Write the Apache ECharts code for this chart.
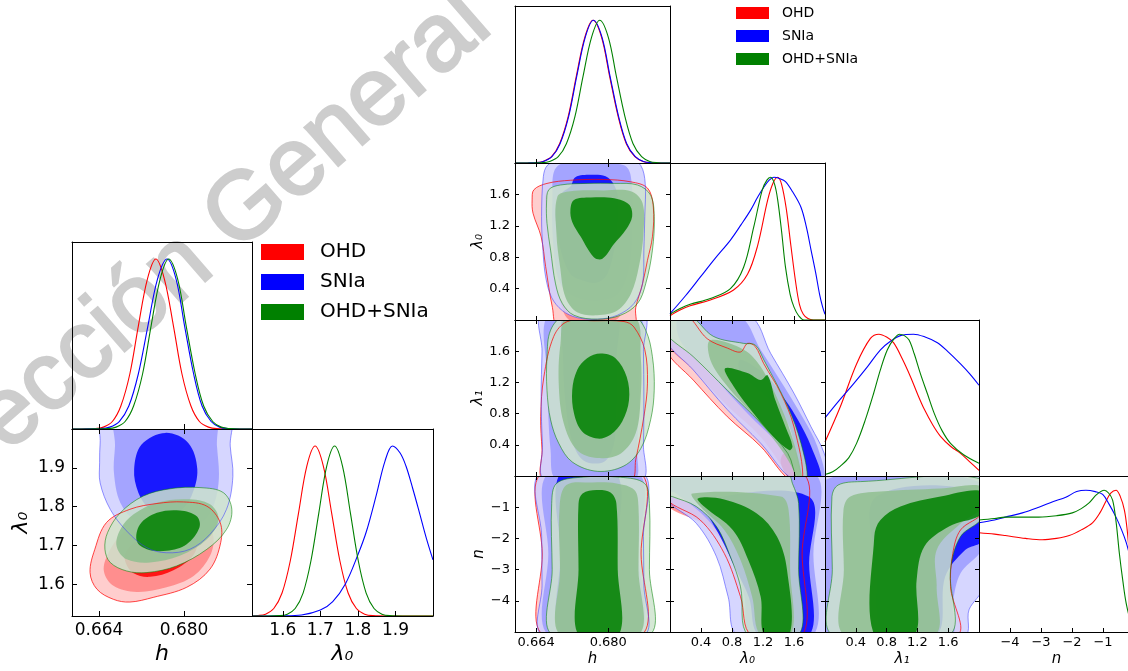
<!DOCTYPE html>
<html>
<head>
<meta charset="utf-8">
<script src="https://cdn.jsdelivr.net/npm/echarts@6/dist/echarts.min.js"></script>
<style>
  html, body { margin: 0; padding: 0; background: #ffffff; }
  #chart { width: 1128px; height: 671px; }
</style>
</head>
<body>
<div id="chart"></div>
<script>
// ---------- tick values ----------
const H_TICKS = [0.664, 0.680];
const LAM0_TICKS_L = [1.6, 1.7, 1.8, 1.9];
const LAM_TICKS_R = [0.4, 0.8, 1.2, 1.6];
const N_TICKS = [-4, -3, -2, -1];

// ---------- left triangle: 1D marginals (parameter, relative density) ----------
const L_h_OHD = [[0.6589,0],[0.6615,0.0005],[0.6632,0.002],[0.6648,0.011],[0.6665,0.044],[0.6681,0.135],[0.6698,0.325],[0.6714,0.607],[0.6731,0.882],[0.6747,1],[0.6763,0.882],[0.6780,0.607],[0.6796,0.325],[0.6813,0.135],[0.6829,0.044],[0.6846,0.011],[0.6862,0.002],[0.6890,0],[0.6928,0]];
const L_h_SNIa = [[0.6589,0],[0.6620,0.0005],[0.6642,0.002],[0.6660,0.011],[0.6678,0.044],[0.6696,0.135],[0.6714,0.325],[0.6732,0.607],[0.6750,0.882],[0.6768,1],[0.6785,0.882],[0.6801,0.607],[0.6818,0.325],[0.6834,0.135],[0.6851,0.044],[0.6867,0.011],[0.6884,0.002],[0.6905,0],[0.6928,0]];
const L_h_Both = [[0.6589,0],[0.6635,0.0005],[0.6656,0.002],[0.6672,0.011],[0.6689,0.044],[0.6705,0.135],[0.6722,0.325],[0.6738,0.607],[0.6755,0.882],[0.6771,1],[0.6788,0.882],[0.6804,0.607],[0.6821,0.325],[0.6837,0.135],[0.6854,0.044],[0.6870,0.011],[0.6887,0.002],[0.6905,0],[0.6928,0]];

const L_l0_OHD = [[1.518,0],[1.532,0.002],[1.554,0.011],[1.576,0.044],[1.598,0.135],[1.620,0.325],[1.642,0.607],[1.664,0.882],[1.686,1],[1.708,0.882],[1.730,0.607],[1.752,0.325],[1.774,0.135],[1.796,0.044],[1.818,0.011],[1.840,0.002],[1.880,0],[2.0,0]];
const L_l0_SNIa = [[1.518,0],[1.60,0.001],[1.65,0.006],[1.70,0.035],[1.733,0.085],[1.767,0.19],[1.80,0.36],[1.823,0.5],[1.85,0.72],[1.872,0.91],[1.892,1],[1.912,0.96],[1.928,0.882],[1.946,0.75],[1.964,0.607],[1.982,0.46],[2.0,0.33]];
const L_l0_Both = [[1.518,0],[1.560,0],[1.591,0.002],[1.612,0.011],[1.633,0.044],[1.654,0.135],[1.675,0.325],[1.696,0.607],[1.717,0.882],[1.738,1],[1.759,0.882],[1.780,0.607],[1.801,0.325],[1.822,0.135],[1.843,0.044],[1.864,0.011],[1.885,0.002],[1.920,0],[2.0,0]];

// ---------- left triangle: 2D credible regions (h, lambda0), [outer, middle, inner] ----------
const L_hL0_OHD = [
  [[0.6623,1.630],[0.6636,1.587],[0.6667,1.561],[0.6698,1.554],[0.6742,1.566],[0.6805,1.592],[0.6849,1.639],[0.6869,1.707],[0.6868,1.759],[0.6843,1.801],[0.6799,1.812],[0.6749,1.808],[0.6698,1.793],[0.6654,1.759],[0.6632,1.690]],
  [[0.6649,1.634],[0.6667,1.596],[0.6711,1.580],[0.6767,1.592],[0.6818,1.621],[0.6849,1.673],[0.6855,1.724],[0.6836,1.767],[0.6792,1.780],[0.6736,1.767],[0.6686,1.733],[0.6658,1.681]],
  [[0.6689,1.660],[0.6705,1.628],[0.6736,1.619],[0.6780,1.636],[0.6818,1.676],[0.6825,1.725],[0.6805,1.750],[0.6761,1.745],[0.6717,1.717],[0.6692,1.686]]
];
const L_hL0_SNIa = [
  [[0.6648,2.05],[0.6642,1.964],[0.6641,1.913],[0.6642,1.861],[0.6661,1.793],[0.6692,1.737],[0.6730,1.694],[0.6767,1.681],[0.6811,1.690],[0.6849,1.729],[0.6880,1.793],[0.6892,1.878],[0.6887,1.956],[0.6884,2.05]],
  [[0.6673,2.05],[0.6670,1.956],[0.6668,1.887],[0.6680,1.810],[0.6711,1.759],[0.6761,1.729],[0.6811,1.741],[0.6849,1.784],[0.6865,1.861],[0.6862,1.956],[0.6855,2.05]],
  [[0.6765,1.990],[0.6808,1.964],[0.6825,1.896],[0.6814,1.827],[0.6792,1.788],[0.6765,1.780],[0.6736,1.793],[0.6714,1.836],[0.6706,1.896],[0.6720,1.960]]
];
const L_hL0_Both = [
  [[0.6651,1.690],[0.6661,1.656],[0.6692,1.634],[0.6730,1.630],[0.6786,1.647],[0.6843,1.690],[0.6880,1.741],[0.6890,1.793],[0.6874,1.836],[0.6830,1.849],[0.6774,1.846],[0.6723,1.827],[0.6680,1.784],[0.6656,1.733]],
  [[0.6673,1.698],[0.6692,1.664],[0.6736,1.656],[0.6792,1.673],[0.6843,1.716],[0.6865,1.767],[0.6849,1.806],[0.6805,1.819],[0.6749,1.810],[0.6705,1.780],[0.6680,1.741]],
  [[0.6711,1.711],[0.6730,1.690],[0.6767,1.686],[0.6805,1.703],[0.6829,1.746],[0.6824,1.775],[0.6792,1.790],[0.6749,1.784],[0.6717,1.754]]
];

// ---------- right triangle: 1D marginals ----------
const R_h_OHD = [[0.6593,0],[0.6620,0.0005],[0.6637,0.002],[0.6655,0.011],[0.6674,0.044],[0.6692,0.135],[0.6711,0.325],[0.6729,0.607],[0.6748,0.882],[0.6766,1],[0.6785,0.882],[0.6803,0.607],[0.6822,0.325],[0.6840,0.135],[0.6859,0.044],[0.6877,0.011],[0.6896,0.002],[0.6915,0],[0.6937,0]];
const R_h_SNIa = [[0.6593,0],[0.6621,0.0005],[0.6638,0.002],[0.6656,0.011],[0.6675,0.044],[0.6693,0.135],[0.6712,0.325],[0.6730,0.607],[0.6749,0.882],[0.6767,1],[0.6786,0.882],[0.6804,0.607],[0.6823,0.325],[0.6841,0.135],[0.6860,0.044],[0.6878,0.011],[0.6897,0.002],[0.6916,0],[0.6937,0]];
const R_h_Both = [[0.6593,0],[0.6634,0.0005],[0.6652,0.002],[0.6670,0.011],[0.6689,0.044],[0.6707,0.135],[0.6726,0.325],[0.6744,0.607],[0.6763,0.882],[0.6781,1],[0.6800,0.882],[0.6818,0.607],[0.6837,0.325],[0.6855,0.135],[0.6874,0.044],[0.6892,0.011],[0.6911,0.002],[0.6925,0],[0.6937,0]];

const R_l0_OHD = [[0,0.03],[0.13,0.07],[0.26,0.10],[0.52,0.14],[0.82,0.21],[1.0,0.32],[1.13,0.52],[1.26,0.84],[1.33,0.96],[1.39,1.0],[1.44,0.95],[1.50,0.78],[1.56,0.52],[1.62,0.27],[1.67,0.11],[1.72,0.04],[1.78,0.01],[1.85,0],[2.0,0]];
const R_l0_SNIa = [[0,0.044],[0.2,0.17],[0.39,0.30],[0.58,0.43],[0.78,0.56],[0.92,0.67],[1.04,0.77],[1.13,0.86],[1.21,0.93],[1.28,0.98],[1.34,1.0],[1.42,0.99],[1.49,0.97],[1.58,0.90],[1.69,0.79],[1.76,0.65],[1.82,0.49],[1.88,0.33],[1.93,0.18],[1.97,0.09],[2.0,0.04]];
const R_l0_Both = [[0,0.04],[0.13,0.08],[0.26,0.11],[0.52,0.15],[0.78,0.22],[0.95,0.37],[1.08,0.65],[1.19,0.91],[1.25,0.98],[1.30,1.0],[1.35,0.95],[1.39,0.84],[1.44,0.62],[1.49,0.37],[1.55,0.18],[1.60,0.09],[1.66,0.03],[1.73,0],[2.0,0]];

const R_l1_OHD = [[0,0.24],[0.2,0.49],[0.41,0.79],[0.59,0.97],[0.70,1.0],[0.80,0.98],[0.89,0.94],[1.0,0.83],[1.11,0.70],[1.20,0.58],[1.29,0.47],[1.40,0.36],[1.50,0.28],[1.63,0.21],[1.76,0.16],[1.88,0.10],[2.0,0.04]];
const R_l1_SNIa = [[0,0.41],[0.18,0.53],[0.37,0.65],[0.55,0.77],[0.72,0.89],[0.85,0.95],[0.98,0.99],[1.15,1.0],[1.30,0.98],[1.46,0.94],[1.61,0.87],[1.76,0.79],[1.88,0.72],[2.0,0.64]];
const R_l1_Both = [[0,0.01],[0.1,0.03],[0.2,0.07],[0.31,0.13],[0.41,0.23],[0.52,0.39],[0.63,0.58],[0.72,0.75],[0.81,0.89],[0.90,0.97],[0.97,1.0],[1.03,0.99],[1.09,0.96],[1.16,0.86],[1.24,0.72],[1.33,0.58],[1.42,0.44],[1.52,0.32],[1.63,0.23],[1.80,0.15],[2.0,0.09]];

const R_n_OHD = [[-5,0.70],[-4.5,0.69],[-4.15,0.68],[-3.5,0.66],[-2.96,0.65],[-2.5,0.66],[-2.09,0.68],[-1.7,0.72],[-1.34,0.77],[-1.1,0.84],[-0.91,0.92],[-0.75,0.98],[-0.58,1.0],[-0.45,0.96],[-0.31,0.86],[-0.22,0.72],[-0.15,0.55],[-0.08,0.38],[0,0.2]];
const R_n_SNIa = [[-5,0.77],[-4.5,0.79],[-4.15,0.81],[-3.6,0.84],[-3.07,0.88],[-2.6,0.92],[-2.2,0.95],[-1.85,0.99],[-1.55,1.0],[-1.25,0.99],[-1.01,0.97],[-0.8,0.9],[-0.58,0.81],[-0.4,0.72],[-0.25,0.63],[-0.1,0.51],[0,0.44]];
const R_n_Both = [[-5,0.79],[-4.5,0.80],[-4.15,0.81],[-3.6,0.81],[-3.07,0.81],[-2.5,0.82],[-1.99,0.84],[-1.7,0.87],[-1.45,0.91],[-1.2,0.97],[-0.96,1.0],[-0.82,0.98],[-0.69,0.93],[-0.58,0.78],[-0.47,0.55],[-0.36,0.36],[-0.25,0.20],[-0.1,0.07],[0,0.03]];

// ---------- right triangle: 2D credible regions, [outer, middle, inner] ----------
// (h, lambda0)
const R_hL0_OHD = [
  [[0.6635,1.66],[0.6664,1.74],[0.6716,1.78],[0.6790,1.79],[0.6850,1.76],[0.6887,1.68],[0.6900,1.44],[0.6898,1.06],[0.6887,0.76],[0.6876,0.46],[0.6861,0.16],[0.6856,-0.09],[0.6690,-0.09],[0.6676,0.16],[0.6661,0.68],[0.6651,1.06],[0.6633,1.36],[0.6631,1.53]],
  [[0.6664,1.62],[0.6716,1.70],[0.6790,1.71],[0.6857,1.66],[0.6872,1.32],[0.6865,0.76],[0.6842,0.25],[0.6813,-0.01],[0.6716,-0.01],[0.6690,0.33],[0.6672,0.89],[0.6663,1.32]]
];
const R_hL0_SNIa = [
  [[0.6690,2.03],[0.6665,1.97],[0.6656,1.83],[0.6652,1.32],[0.6655,0.89],[0.6661,0.55],[0.6674,0.29],[0.6698,0.12],[0.6731,0.03],[0.6776,0.01],[0.6820,0.06],[0.6857,0.21],[0.6876,0.46],[0.6879,0.89],[0.6881,1.32],[0.6882,1.74],[0.6872,1.97],[0.6850,2.03]],
  [[0.6687,1.96],[0.6765,1.99],[0.6835,1.97],[0.6850,1.83],[0.6853,1.32],[0.6846,0.68],[0.6820,0.33],[0.6776,0.25],[0.6731,0.29],[0.6694,0.46],[0.6679,0.89],[0.6676,1.53]],
  [[0.6716,1.70],[0.6727,1.82],[0.6761,1.85],[0.6794,1.83],[0.6813,1.72],[0.6822,1.53],[0.6820,1.23],[0.6814,0.93],[0.6798,0.59],[0.6776,0.48],[0.6746,0.50],[0.6716,0.59],[0.6693,0.93],[0.6683,1.32],[0.6688,1.53],[0.6701,1.64]]
];
const R_hL0_Both = [
  [[0.6668,1.66],[0.6694,1.72],[0.6753,1.74],[0.6813,1.74],[0.6865,1.72],[0.6894,1.59],[0.6902,1.32],[0.6898,0.89],[0.6883,0.46],[0.6865,0.21],[0.6827,0.06],[0.6776,0.01],[0.6724,0.06],[0.6698,0.21],[0.6683,0.46],[0.6672,0.89],[0.6664,1.23],[0.6663,1.49]],
  [[0.6687,1.57],[0.6716,1.64],[0.6790,1.65],[0.6850,1.64],[0.6876,1.49],[0.6878,1.10],[0.6868,0.68],[0.6850,0.33],[0.6820,0.12],[0.6776,0.06],[0.6731,0.10],[0.6705,0.29],[0.6693,0.68],[0.6685,1.10]],
  [[0.6716,1.40],[0.6724,1.53],[0.6761,1.56],[0.6813,1.55],[0.6846,1.47],[0.6853,1.32],[0.6839,1.15],[0.6813,0.97],[0.6787,0.78],[0.6768,0.80],[0.6739,1.06],[0.6720,1.25]]
];
// (h, lambda1)
const R_hL1_OHD = [
  [[0.6709,1.98],[0.6679,1.79],[0.6657,1.27],[0.6650,0.76],[0.6653,0.33],[0.6657,-0.05],[0.6850,-0.05],[0.6861,0.21],[0.6879,0.76],[0.6887,1.19],[0.6881,1.62],[0.6857,1.91],[0.6835,1.98],[0.6768,1.99]],
  [[0.6712,1.90],[0.6680,1.19],[0.6683,0.33],[0.6694,-0.05],[0.6835,-0.05],[0.6857,0.55],[0.6864,1.19],[0.6850,1.75],[0.6790,1.93]]
];
const R_hL1_SNIa = [
  [[0.6655,2.1],[0.6653,1.6],[0.6651,1.0],[0.6654,0.4],[0.6660,-0.05],[0.6874,-0.05],[0.6878,0.4],[0.6879,1.0],[0.6878,1.6],[0.6876,2.1]],
  [[0.6672,2.1],[0.6666,1.2],[0.6672,0.33],[0.6687,-0.05],[0.6857,-0.05],[0.6864,0.33],[0.6868,1.2],[0.6864,2.1]],
  [[0.6705,2.1],[0.6700,1.5],[0.6706,0.9],[0.6720,0.45],[0.6745,0.2],[0.6790,0.18],[0.6812,0.4],[0.6818,0.9],[0.6818,1.5],[0.6816,2.1]]
];
const R_hL1_Both = [
  [[0.6701,2.04],[0.6672,1.87],[0.6664,1.53],[0.6664,1.10],[0.6672,0.72],[0.6690,0.42],[0.6720,0.18],[0.6776,0.06],[0.6835,0.13],[0.6872,0.35],[0.6894,0.72],[0.6902,1.10],[0.6898,1.53],[0.6883,1.87],[0.6857,2.04]],
  [[0.6709,2.04],[0.6694,1.70],[0.6690,1.19],[0.6701,0.68],[0.6731,0.33],[0.6776,0.23],[0.6828,0.29],[0.6861,0.55],[0.6872,1.02],[0.6872,1.53],[0.6857,2.04]],
  [[0.6783,1.57],[0.6816,1.51],[0.6841,1.27],[0.6846,0.97],[0.6831,0.70],[0.6805,0.53],[0.6776,0.48],[0.6742,0.57],[0.6724,0.80],[0.6720,1.10],[0.6731,1.36],[0.6753,1.51]]
];
// (h, n)
const R_hN_OHD = [
  [[0.66522,0.1],[0.66535,-2.5],[0.66549,-5.1],[0.68741,-5.1],[0.68728,-2.5],[0.68714,0.1]],
  [[0.6676,0.1],[0.6676,-2.5],[0.6676,-5.1],[0.6854,-5.1],[0.6854,-2.5],[0.6854,0.1]]
];
const R_hN_SNIa = [
  [[0.66495,0.1],[0.66522,-1.94],[0.6653,-3.5],[0.6654,-5.1],[0.6879,-5.1],[0.6879,-3.5],[0.6878,-1.94],[0.6876,0.1]],
  [[0.6667,0.1],[0.6667,-2.5],[0.6667,-5.1],[0.6867,-5.1],[0.6867,-2.5],[0.6867,0.1]],
  [[0.6694,0.1],[0.6694,-2.5],[0.6694,-5.1],[0.6818,-5.1],[0.6818,-2.5],[0.6818,0.1]]
];
const R_hN_Both = [
  [[0.66762,-5.1],[0.66755,-3.0],[0.66744,-0.88],[0.66851,-0.24],[0.67384,-0.04],[0.68273,-0.04],[0.68806,-0.24],[0.68913,-0.88],[0.68913,-3.0],[0.68913,-5.1]],
  [[0.6694,-5.1],[0.6693,-3.0],[0.6692,-0.98],[0.6707,-0.29],[0.6765,-0.21],[0.6818,-0.24],[0.6858,-0.45],[0.6867,-0.98],[0.6867,-3.0],[0.6867,-5.1]],
  [[0.6734,-5.1],[0.6734,-3.0],[0.6734,-0.88],[0.6743,-0.56],[0.6774,-0.45],[0.6805,-0.53],[0.6818,-0.88],[0.6821,-3.0],[0.6823,-5.1]]
];
// (lambda0, lambda1)
const R_l0l1_OHD = [
  [[-0.05,2.05],[0.22,2.05],[0.48,1.76],[0.74,1.64],[0.91,1.59],[1.00,1.70],[1.10,1.66],[1.21,1.44],[1.43,1.06],[1.60,0.63],[1.71,-0.05],[1.54,-0.05],[1.17,0.38],[0.74,0.76],[0.30,1.23],[-0.05,1.62]],
  [[-0.05,1.95],[0.40,1.72],[0.74,1.55],[1.08,1.45],[1.36,1.00],[1.52,0.55],[1.64,-0.05],[1.58,-0.05],[1.17,0.50],[0.74,0.90],[0.30,1.36],[-0.05,1.70]],
  [[1.47,0.29],[1.60,0.21],[1.67,-0.05],[1.56,-0.05],[1.43,0.16]]
];
const R_l0l1_SNIa = [
  [[0,2.05],[1.02,2.05],[1.30,1.57],[1.60,1.06],[1.82,0.63],[1.99,0.29],[2.05,-0.05],[1.60,-0.05],[1.17,0.42],[0.74,0.85],[0.30,1.36],[-0.05,1.74]],
  [[0.13,2.05],[0.89,2.05],[1.17,1.62],[1.47,1.15],[1.73,0.72],[1.90,0.38],[1.99,-0.05],[1.77,-0.05],[1.43,0.38],[1.00,0.80],[0.52,1.32],[0.13,1.74]],
  [[0.91,1.49],[1.26,1.27],[1.49,0.97],[1.65,0.72],[1.82,0.38],[1.95,-0.05],[1.73,-0.05],[1.62,0.29],[1.54,0.63],[1.34,0.93],[0.91,1.32]]
];
const R_l0l1_Both = [
  [[-0.05,2.05],[0.26,2.05],[0.56,1.79],[0.95,1.70],[1.10,1.68],[1.21,1.49],[1.52,0.89],[1.69,0.42],[1.77,-0.05],[1.65,-0.05],[1.52,0.29],[1.17,0.68],[0.74,1.10],[0.30,1.53],[-0.05,1.83]],
  [[0.52,1.74],[0.95,1.62],[1.17,1.40],[1.43,0.89],[1.60,0.42],[1.71,-0.05],[1.67,-0.05],[1.47,0.29],[1.13,0.72],[0.74,1.15],[0.52,1.49]],
  [[0.71,1.38],[1.00,1.32],[1.17,1.23],[1.26,1.29],[1.36,0.97],[1.49,0.63],[1.58,0.38],[1.54,0.33],[1.34,0.50],[1.08,0.80],[0.82,1.15]]
];
// (lambda0, n)
const R_l0N_OHD = [
  [[-0.05,0.1],[1.70,0.1],[1.705,-2.5],[1.71,-5.1],[1.05,-5.1],[0.91,-3.87],[0.70,-2.48],[0.39,-1.41],[-0.05,-0.72]],
  [[-0.05,0.1],[1.64,0.1],[1.65,-2.5],[1.66,-5.1],[1.17,-5.1],[1.01,-3.87],[0.81,-2.59],[0.49,-1.62],[-0.05,-0.9]]
];
const R_l0N_SNIa = [
  [[-0.05,0.1],[2.05,0.1],[2.05,-2.5],[2.05,-5.1],[0.88,-5.1],[0.75,-3.87],[0.60,-2.59],[0.34,-1.52],[-0.05,-0.72]],
  [[-0.05,0.1],[1.85,0.1],[1.85,-2.5],[1.85,-5.1],[1.04,-5.1],[0.96,-3.87],[0.81,-2.59],[0.49,-1.41],[0.08,-0.56],[-0.05,-0.40]],
  [[0.40,-0.80],[1.79,-0.66],[1.795,-2.8],[1.80,-5.1],[1.15,-5.1],[1.02,-3.9],[0.85,-3.0],[0.66,-2.0],[0.50,-1.3]]
];
const R_l0N_Both = [
  [[-0.05,0.1],[1.51,0.1],[1.58,-0.24],[1.66,-0.88],[1.66,-3.0],[1.66,-5.1],[1.01,-5.1],[0.91,-3.55],[0.78,-2.59],[0.60,-1.62],[0.34,-0.98],[0.03,-0.66],[-0.05,-0.6]],
  [[0.29,-0.56],[1.43,-0.66],[1.53,-1.09],[1.55,-3.0],[1.56,-5.1],[1.17,-5.1],[1.06,-3.87],[0.91,-2.69],[0.70,-1.73],[0.39,-0.98]],
  [[0.36,-0.72],[0.70,-0.75],[1.12,-1.20],[1.38,-1.94],[1.51,-3.01],[1.54,-5.1],[1.22,-5.1],[1.17,-3.87],[1.01,-2.69],[0.81,-1.73],[0.44,-0.98]]
];
// (lambda1, n)
const R_l1N_OHD = [
  [[-0.05,0.1],[2.05,0.1],[2.05,-1.14],[1.76,-1.73],[1.66,-2.48],[1.63,-3.55],[1.71,-5.1],[-0.05,-5.1],[-0.05,-2.5]],
  [[0.05,-0.3],[2.05,-0.4],[2.05,-1.5],[1.70,-2.0],[1.58,-2.9],[1.57,-5.1],[0.05,-5.1],[0.05,-2.5]]
];
const R_l1N_SNIa = [
  [[-0.05,0.1],[2.05,0.1],[2.05,-3.55],[1.87,-4.29],[1.81,-5.1],[-0.05,-5.1],[-0.05,-2.5]],
  [[0.0,-0.13],[2.05,-0.24],[2.05,-2.26],[1.76,-3.12],[1.66,-4.08],[1.63,-5.1],[0.01,-5.1],[0.0,-2.5]],
  [[0.67,-0.66],[2.05,-0.56],[2.05,-2.05],[1.82,-2.37],[1.56,-3.23],[1.45,-5.1],[0.77,-5.1],[0.67,-3.01]]
];
const R_l1N_Both = [
  [[0.10,-5.1],[0.095,-3.0],[0.09,-0.66],[0.17,-0.29],[0.46,-0.18],[2.05,-0.11],[2.05,-1.30],[1.76,-1.94],[1.63,-3.01],[1.61,-5.1]],
  [[0.25,-5.1],[0.245,-3.0],[0.24,-1.09],[0.33,-0.66],[0.72,-0.50],[1.50,-0.40],[2.05,-0.34],[2.05,-0.98],[1.76,-1.52],[1.45,-2.37],[1.45,-3.55],[1.42,-5.1]],
  [[0.64,-5.1],[0.64,-1.94],[0.72,-1.41],[0.98,-0.98],[1.50,-0.66],[2.05,-0.50],[2.05,-1.20],[1.61,-1.62],[1.29,-2.26],[1.19,-3.33],[1.16,-5.1]]
];

// ---------- styling ----------
const FONT = 'DejaVu Sans';
const NAMES = { OHD: 'OHD', SNIa: 'SNIa', Both: 'OHD+SNIa' };
const LINE = { OHD: '#ff0000', SNIa: '#0000ff', Both: '#008000' };
// level colours (outer, middle, inner), laid down with a little transparency
const FILL = {
  OHD:  ['rgba(255,196,196,0.85)', 'rgba(255,131,131,0.85)', 'rgba(255,0,0,0.85)'],
  SNIa: ['rgba(207,207,255,0.85)', 'rgba(155,155,255,0.85)', 'rgba(0,0,255,0.85)'],
  Both: ['rgba(206,228,206,0.85)', 'rgba(143,190,143,0.85)', 'rgba(0,128,0,0.85)']
};
const EDGE = { OHD: 'rgba(255,0,0,0.8)', SNIa: 'rgba(60,60,255,0.6)', Both: 'rgba(0,128,0,0.6)' };

const BIG = { fs: 17, xlm: 6, ylm: 7, tick: 5, xng: 27, yng: 40, nfs: 22 };
const SMALL = { fs: 13, xlm: 4, ylm: 5, tick: 4, xng: 20, yng: 27, nfs: 15 };

const fmtH = v => v.toFixed(3);
const fmtL = v => v.toFixed(1);
const fmtN = v => (v < 0 ? '\u2212' : '') + Math.abs(v);

const grids = [], xAxes = [], yAxes = [], series = [];

function addPanel(p) {
  const st = p.big ? BIG : SMALL;
  const gi = grids.length;
  grids.push({ left: p.box[0], top: p.box[1], width: p.box[2], height: p.box[3],
               show: false, containLabel: false, outerBoundsMode: 'none' });
  const line = { show: true, onZero: false, lineStyle: { color: '#000', width: 1 } };
  const ticks = vals => ({ show: !!vals, inside: true, length: st.tick, customValues: vals || [],
                           lineStyle: { color: '#000', width: 1 } });
  const nameStyle = { fontFamily: FONT, fontSize: st.nfs, fontStyle: 'italic', color: '#000' };

  const xi = xAxes.length;
  xAxes.push({
    type: 'value', gridIndex: gi, position: 'bottom', min: p.x[0], max: p.x[1], z: 5,
    axisLine: line, axisTick: ticks(p.xTicks), splitLine: { show: false },
    axisLabel: { show: !!p.xName, customValues: p.xTicks, formatter: p.xFmt, margin: st.xlm,
                 fontSize: st.fs, fontFamily: FONT, color: '#000', hideOverlap: false },
    name: p.xName || '', nameLocation: 'middle', nameGap: st.xng, nameTextStyle: nameStyle
  });
  xAxes.push({
    type: 'value', gridIndex: gi, position: 'top', min: p.x[0], max: p.x[1], z: 5,
    axisLine: line, axisTick: ticks(p.y ? p.xTicks : null), splitLine: { show: false },
    axisLabel: { show: false }
  });

  const yi = yAxes.length;
  const yMin = p.y ? p.y[0] : 0, yMax = p.y ? p.y[1] : 1.1;
  yAxes.push({
    type: 'value', gridIndex: gi, position: 'left', min: yMin, max: yMax, z: 5,
    axisLine: line, axisTick: ticks(p.y ? p.yTicks : null), splitLine: { show: false },
    axisLabel: { show: !!p.yName, customValues: p.yTicks, formatter: p.yFmt, margin: st.ylm,
                 fontSize: st.fs, fontFamily: FONT, color: '#000', hideOverlap: false },
    name: p.yName || '', nameLocation: 'middle', nameGap: st.yng, nameTextStyle: nameStyle
  });
  yAxes.push({
    type: 'value', gridIndex: gi, position: 'right', min: yMin, max: yMax, z: 5,
    axisLine: line, axisTick: ticks(p.y ? p.yTicks : null), splitLine: { show: false },
    axisLabel: { show: false }
  });

  const keys = ['OHD', 'SNIa', 'Both'];
  if (p.curves) {
    keys.forEach((k, i) => {
      series.push({
        type: 'line', name: NAMES[k], xAxisIndex: xi, yAxisIndex: yi, data: p.curves[i],
        showSymbol: false, smooth: 0.35, clip: true, z: 3,
        lineStyle: { color: LINE[k], width: 1.1 }, itemStyle: { color: LINE[k] },
        emphasis: { disabled: true }
      });
    });
  }
  if (p.regions) {
    // filled levels, one series per data set
    keys.forEach((k, i) => {
      const levels = p.regions[i];
      series.push({
        type: 'custom', name: NAMES[k], xAxisIndex: xi, yAxisIndex: yi, clip: true, z: 2,
        itemStyle: { color: LINE[k] },
        data: levels.map((_, j) => [j]),
        renderItem: (params, api) => {
          const j = api.value(0);
          return {
            type: 'polygon',
            shape: { points: levels[j].map(pt => api.coord(pt)), smooth: 0.35 },
            style: { fill: FILL[k][j] }
          };
        },
        emphasis: { disabled: true }
      });
    });
    // thin outline of each outermost region, on top of all fills
    keys.forEach((k, i) => {
      const outer = p.regions[i][0];
      series.push({
        type: 'custom', name: NAMES[k], xAxisIndex: xi, yAxisIndex: yi, clip: true, z: 3,
        itemStyle: { color: LINE[k] },
        data: [[0]],
        renderItem: (params, api) => ({
          type: 'polygon',
          shape: { points: outer.map(pt => api.coord(pt)), smooth: 0.35 },
          style: { fill: null, stroke: EDGE[k], lineWidth: 0.9 }
        }),
        emphasis: { disabled: true }
      });
    });
  }
}

// left triangle
const LH = [0.6589, 0.6928], LL0 = [1.518, 2.0];
addPanel({ big: true, box: [72, 242, 180, 187], x: LH, xTicks: H_TICKS, xFmt: fmtH,
           curves: [L_h_OHD, L_h_SNIa, L_h_Both] });
addPanel({ big: true, box: [72, 429, 180, 187], x: LH, y: LL0, xTicks: H_TICKS, yTicks: LAM0_TICKS_L,
           xFmt: fmtH, yFmt: fmtL, xName: 'h', yName: 'λ\u2080',
           regions: [L_hL0_OHD, L_hL0_SNIa, L_hL0_Both] });
addPanel({ big: true, box: [252, 429, 181, 187], x: LL0, xTicks: LAM0_TICKS_L, xFmt: fmtL, xName: 'λ\u2080',
           curves: [L_l0_OHD, L_l0_SNIa, L_l0_Both] });

// right triangle
const RH = [0.6593, 0.6937], RL = [0, 2], RN = [-5, 0];
const CX = [515, 670, 825, 979], CW = [155, 155, 154, 155];
const RY = [6, 163, 320, 476], RHh = [157, 157, 156, 156];
const box = (r, c) => [CX[c], RY[r], CW[c], RHh[r]];

addPanel({ box: box(0, 0), x: RH, xTicks: H_TICKS, xFmt: fmtH, curves: [R_h_OHD, R_h_SNIa, R_h_Both] });

addPanel({ box: box(1, 0), x: RH, y: RL, xTicks: H_TICKS, yTicks: LAM_TICKS_R, xFmt: fmtH, yFmt: fmtL,
           yName: 'λ\u2080', regions: [R_hL0_OHD, R_hL0_SNIa, R_hL0_Both] });
addPanel({ box: box(1, 1), x: RL, xTicks: LAM_TICKS_R, xFmt: fmtL, curves: [R_l0_OHD, R_l0_SNIa, R_l0_Both] });

addPanel({ box: box(2, 0), x: RH, y: RL, xTicks: H_TICKS, yTicks: LAM_TICKS_R, xFmt: fmtH, yFmt: fmtL,
           yName: 'λ\u2081', regions: [R_hL1_OHD, R_hL1_SNIa, R_hL1_Both] });
addPanel({ box: box(2, 1), x: RL, y: RL, xTicks: LAM_TICKS_R, yTicks: LAM_TICKS_R, xFmt: fmtL, yFmt: fmtL,
           regions: [R_l0l1_OHD, R_l0l1_SNIa, R_l0l1_Both] });
addPanel({ box: box(2, 2), x: RL, xTicks: LAM_TICKS_R, xFmt: fmtL, curves: [R_l1_OHD, R_l1_SNIa, R_l1_Both] });

addPanel({ box: box(3, 0), x: RH, y: RN, xTicks: H_TICKS, yTicks: N_TICKS, xFmt: fmtH, yFmt: fmtN,
           xName: 'h', yName: 'n', regions: [R_hN_OHD, R_hN_SNIa, R_hN_Both] });
addPanel({ box: box(3, 1), x: RL, y: RN, xTicks: LAM_TICKS_R, yTicks: N_TICKS, xFmt: fmtL, yFmt: fmtN,
           xName: 'λ\u2080', regions: [R_l0N_OHD, R_l0N_SNIa, R_l0N_Both] });
addPanel({ box: box(3, 2), x: RL, y: RN, xTicks: LAM_TICKS_R, yTicks: N_TICKS, xFmt: fmtL, yFmt: fmtN,
           xName: 'λ\u2081', regions: [R_l1N_OHD, R_l1N_SNIa, R_l1N_Both] });
addPanel({ box: box(3, 3), x: RN, xTicks: N_TICKS, xFmt: fmtN, xName: 'n',
           curves: [R_n_OHD, R_n_SNIa, R_n_Both] });

const legendData = [
  { name: 'OHD', itemStyle: { color: '#ff0000', borderWidth: 0 } },
  { name: 'SNIa', itemStyle: { color: '#0000ff', borderWidth: 0 } },
  { name: 'OHD+SNIa', itemStyle: { color: '#008000', borderWidth: 0 } }
];

const chart = echarts.init(document.getElementById('chart'), null, { renderer: 'canvas' });
chart.setOption({
  animation: false,
  backgroundColor: '#ffffff',
  textStyle: { fontFamily: FONT },
  graphic: [{
    type: 'text', x: 187, y: 262, rotation: 41 * Math.PI / 180, z: -10, silent: true,
    style: { text: 'Dirección General', fontSize: 96, fontFamily: 'Liberation Sans',
             fill: '#cdcdcd', stroke: '#cdcdcd', lineWidth: 2.5,
             align: 'center', verticalAlign: 'middle' }
  }],
  legend: [
    { orient: 'vertical', left: 261, top: 242, padding: 0, icon: 'rect', itemWidth: 43, itemHeight: 16,
      itemGap: 10, data: legendData,
      textStyle: { fontFamily: FONT, fontSize: 20, color: '#000', padding: [0, 0, 0, 11] } },
    { orient: 'vertical', left: 736, top: 6, padding: 0, icon: 'rect', itemWidth: 33, itemHeight: 12,
      itemGap: 9, data: legendData,
      textStyle: { fontFamily: FONT, fontSize: 14, color: '#000', padding: [0, 0, 0, 8] } }
  ],
  grid: grids,
  xAxis: xAxes,
  yAxis: yAxes,
  series: series
});
</script>
</body>
</html>
